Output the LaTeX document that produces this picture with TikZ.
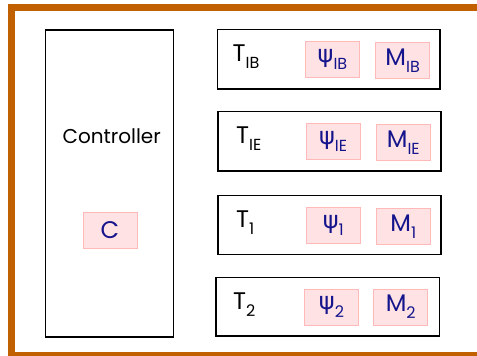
\documentclass[tikz,border=0pt]{standalone}
\usepackage{fontspec}
\setmainfont{Poppins}
\newfontfamily\grk{DejaVu Sans}
\definecolor{frameorange}{RGB}{192,96,0}
\definecolor{pinkfill}{RGB}{255,226,228}
\definecolor{pinkline}{RGB}{255,185,185}
\definecolor{navy}{RGB}{20,20,140}
\newcommand{\lowsub}[1]{\raisebox{-0.3em}{\fontsize{16}{16}\selectfont #1}}
\begin{document}
\begin{tikzpicture}[x=1pt,y=-1pt,
  blackbox/.style={draw=black,line width=1.4pt,rectangle,inner sep=0pt},
  pinkbox/.style={draw=pinkline,fill=pinkfill,line width=1pt,rectangle,inner sep=0pt,
     minimum width=54pt,minimum height=36pt,text=navy,font=\fontsize{24}{24}\selectfont},
  tlabel/.style={anchor=base west,inner sep=0pt,font=\fontsize{24}{24}\selectfont}]
\useasboundingbox (0,0) rectangle (477,356);
\clip (0,0) rectangle (477,356);
\fill[white] (0,0) rectangle (477,356);
\draw[frameorange,line width=7pt] (485,7.5) -- (11.7,7.5) -- (11.7,355.5) -- (485,355.5);
% controller
\node[blackbox,minimum width=128pt,minimum height=307pt] (ctrl) at (109.5,183.5) {};
\node[font=\fontsize{20}{20}\selectfont,inner sep=0pt] (ctrltxt) at (111.7,136) {Controller};
\node[pinkbox] (c) at (110,230.5) {C};
% T boxes
\node[blackbox,minimum width=222.7pt,minimum height=59.7pt] (tib) at (328.7,59.2) {};
\node[blackbox,minimum width=223pt,minimum height=59.3pt] (tie) at (329.5,141.3) {};
\node[blackbox,minimum width=223pt,minimum height=59.4pt] (t1) at (329.5,225) {};
\node[blackbox,minimum width=223.3pt,minimum height=58.7pt] (t2) at (327.7,306.7) {};
% labels
\node[tlabel] (ltib) at (232.5,61.5) {T\lowsub{IB}};
\node[tlabel] (ltie) at (236,143.5) {T\lowsub{IE}};
\node[tlabel] (lt1) at (236,227.5) {T\lowsub{1}};
\node[tlabel] (lt2) at (233,309.5) {T\lowsub{2}};
% inner boxes
\node[pinkbox] (psiib) at (332.5,59.3) {{\grk ψ}\lowsub{IB}};
\node[pinkbox] (mib) at (402.7,60.3) {M\lowsub{IB}};
\node[pinkbox] (psiie) at (333,141.3) {{\grk ψ}\lowsub{IE}};
\node[pinkbox] (mie) at (403.3,142.5) {M\lowsub{IE}};
\node[pinkbox] (psi1) at (333.3,225.3) {{\grk ψ}\lowsub{1}};
\node[pinkbox] (m1) at (403.3,226.5) {M\lowsub{1}};
\node[pinkbox] (psi2) at (331.5,307) {{\grk ψ}\lowsub{2}};
\node[pinkbox] (m2) at (400.7,307) {M\lowsub{2}};
\end{tikzpicture}
\end{document}
